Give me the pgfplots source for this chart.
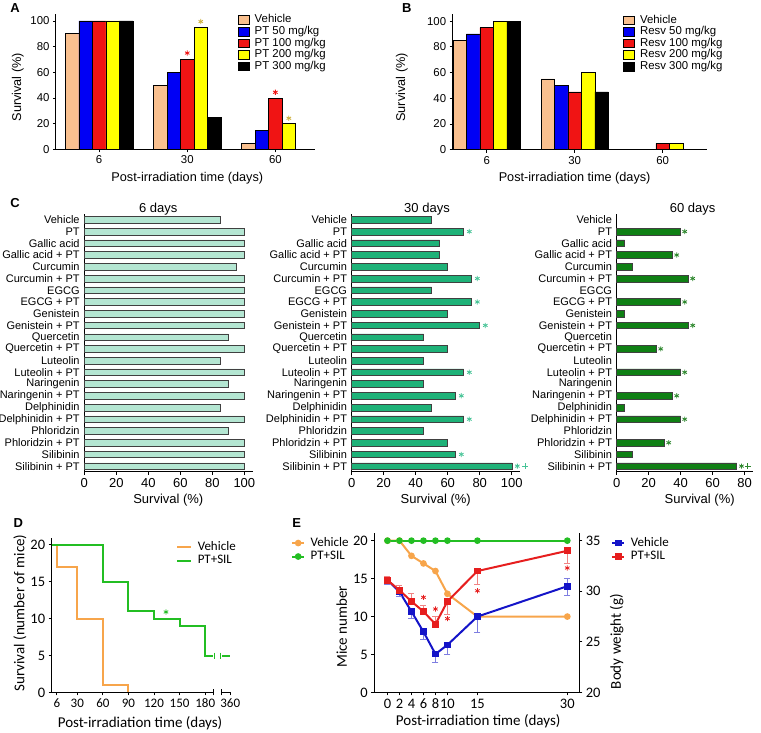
\documentclass[border=0pt]{standalone}
\usepackage{fontspec}
\setmainfont{Liberation Sans}
\newfontfamily\calfont{Carlito}
\usepackage{pgfplots}
\pgfplotsset{compat=1.18}
\usetikzlibrary{plotmarks}

\definecolor{peach}{RGB}{249,192,143}
\definecolor{pblue}{RGB}{0,0,245}
\definecolor{pred}{RGB}{240,20,20}
\definecolor{pyel}{RGB}{255,255,0}
\definecolor{stargold}{RGB}{205,175,60}
\definecolor{mint}{RGB}{180,230,210}
\definecolor{midgreen}{RGB}{30,178,120}
\definecolor{darkgreen}{RGB}{15,128,20}
\definecolor{tealstar}{RGB}{70,195,150}
\definecolor{dkstar}{RGB}{45,135,45}
\definecolor{dorange}{RGB}{247,165,75}
\definecolor{dgreen}{RGB}{35,190,35}
\definecolor{eblue}{RGB}{20,20,200}
\definecolor{ered}{RGB}{230,30,30}

\pgfplotsset{
  base/.style={
    scale only axis, anchor=south west, clip=false,
    axis x line*=bottom, axis y line*=left,
    axis line style={line width=1pt},
    tick style={black, line width=0.8pt},
    tick align=outside, major tick length=3pt,
    /pgf/number format/assume math mode=true,
  },
  pat/.style={fill=#1, draw=black, line width=0.6pt,
    legend image code/.code={\draw[##1] (0pt,-4.3pt) rectangle (10.7pt,4.3pt);}},
  star/.style={only marks, mark=asterisk, mark size=2.6pt, line width=0.8pt, color=#1, forget plot},
  ableg/.style={legend cell align=left,
    legend style={draw=none, fill=none, anchor=north west, at={#1},
      font=\fontsize{11.4}{12}\selectfont, row sep=0pt,
      nodes={inner sep=0.5pt, text height=8.2pt, text depth=2.4pt},
      /tikz/every odd column/.append style={column sep=5pt}}},
  abax/.style={base,
    ticklabel style={font=\fontsize{11.4}{12}\selectfont},
    label style={font=\fontsize{12.7}{14}\selectfont},
    xtick={0,1,2}, xticklabels={6,30,60}, ytick={0,20,...,100},
    ymin=0, ymax=105.4, height=135.5pt,
    xlabel={Post-irradiation time (days)}, ylabel={Survival (\%)}},
  cax/.style={base, height=258pt, xmin=0, ymin=-0.5, ymax=21.5,
    ytick={0,...,21}, ytick style={draw=none},
    yticklabels={Silibinin + PT, Silibinin, Phloridzin + PT, Phloridzin,
      Delphinidin + PT, Delphinidin, Naringenin + PT, Naringenin,
      Luteolin + PT, Luteolin, Quercetin + PT, Quercetin,
      Genistein + PT, Genistein, EGCG + PT, EGCG,
      Curcumin + PT, Curcumin, Gallic acid + PT, Gallic acid, PT, Vehicle},
    yticklabel style={font=\fontsize{11}{11}\selectfont, inner sep=1.5pt},
    xticklabel style={font=\fontsize{13}{13}\selectfont},
    label style={font=\fontsize{13}{14}\selectfont},
    xlabel={Survival (\%)}},
  cbar/.style={xbar, bar width=0.57, fill=#1, draw=black!75, line width=0.5pt},
  deax/.style={base,
    ticklabel style={font=\calfont\fontsize{14.5}{15}\selectfont},
    label style={font=\calfont\fontsize{15}{16}\selectfont}},
  deleg/.style={legend cell align=left,
    legend style={draw=none, fill=none, anchor=north west, at={#1},
      font=\calfont\fontsize{13}{14}\selectfont, row sep=0pt,
      nodes={inner sep=0.5pt, text height=9.5pt, text depth=3pt},
      /tikz/every odd column/.append style={column sep=5pt}}},
}

\begin{document}
\begin{tikzpicture}[x=1pt,y=1pt]
\path[use as bounding box] (0pt,0pt) rectangle (761pt,733pt);

\begin{scope}[font=\bfseries\fontsize{13}{13}\selectfont]
\node at (15pt,725pt) {A};
\node at (406.7pt,725pt) {B};
\node at (15pt,529.7pt) {C};
\node at (18.3pt,209.7pt) {D};
\node at (296.7pt,209.7pt) {E};
\end{scope}
\begin{scope}[font=\fontsize{13}{13}\selectfont]
\node at (158.3pt,524pt) {6 days};
\node at (427pt,524pt) {30 days};
\node at (692.7pt,524pt) {60 days};
\end{scope}

% ---------- A
\begin{axis}[abax, at={(56pt,583.5pt)}, width=259pt, xmin=-0.49, xmax=2.45,
  xlabel style={at={(axis description cs:0.507,-0.2125)}, anchor=center},
  ylabel style={at={(axis description cs:-0.147,0.46)}, anchor=center},
  ableg={(0.69,1.015)}]
\addplot[ybar, bar width=0.153, bar shift=-0.306, pat=peach] coordinates {(0,90)(1,50)(2,5)};
\addlegendentry{Vehicle}
\addplot[ybar, bar width=0.153, bar shift=-0.153, pat=pblue] coordinates {(0,100)(1,60)(2,15)};
\addlegendentry{PT 50 mg/kg}
\addplot[ybar, bar width=0.153, bar shift=0, pat=pred] coordinates {(0,100)(1,70)(2,40)};
\addlegendentry{PT 100 mg/kg}
\addplot[ybar, bar width=0.153, bar shift=0.153, pat=pyel] coordinates {(0,100)(1,95)(2,20)};
\addlegendentry{PT 200 mg/kg}
\addplot[ybar, bar width=0.153, bar shift=0.306, pat=black] coordinates {(0,100)(1,25)};
\addlegendentry{PT 300 mg/kg}
\addplot[star=pred] coordinates {(1,75)(2,44.5)};
\addplot[star=stargold] coordinates {(1.153,99.5)(2.153,24.3)};
\end{axis}

% ---------- B
\begin{axis}[abax, at={(452.7pt,583.3pt)}, width=254pt, xmin=-0.386, xmax=2.5,
  xlabel style={at={(axis description cs:0.48,-0.212)}, anchor=center},
  ylabel style={at={(axis description cs:-0.2,0.46)}, anchor=center},
  ableg={(0.659,1.015)}]
\addplot[ybar, bar width=0.153, bar shift=-0.306, pat=peach] coordinates {(0,85)(1,55)};
\addlegendentry{Vehicle}
\addplot[ybar, bar width=0.153, bar shift=-0.153, pat=pblue] coordinates {(0,90)(1,50)};
\addlegendentry{Resv 50 mg/kg}
\addplot[ybar, bar width=0.153, bar shift=0, pat=pred] coordinates {(0,95)(1,45)(2,5)};
\addlegendentry{Resv 100 mg/kg}
\addplot[ybar, bar width=0.153, bar shift=0.153, pat=pyel] coordinates {(0,100)(1,60)(2,5)};
\addlegendentry{Resv 200 mg/kg}
\addplot[ybar, bar width=0.153, bar shift=0.306, pat=black] coordinates {(0,100)(1,45)};
\addlegendentry{Resv 300 mg/kg}
\end{axis}

% ---------- C, 6 days
\begin{axis}[cax, at={(84.3pt,261pt)}, width=168.7pt, xmax=105.4, xtick={0,20,...,100},
  xlabel style={at={(axis description cs:0.498,-0.111)}, anchor=center}]
\addplot[cbar=mint] coordinates {(85,21)(100,20)(100,19)(100,18)(95,17)(100,16)(100,15)(100,14)
  (100,13)(100,12)(90,11)(100,10)(85,9)(100,8)(90,7)(100,6)(85,5)(100,4)(90,3)(100,2)(100,1)(100,0)};
\end{axis}

% ---------- C, 30 days
\begin{axis}[cax, at={(351.7pt,261pt)}, width=168.7pt, xmax=105.4, xtick={0,20,...,100},
  xlabel style={at={(axis description cs:0.498,-0.111)}, anchor=center}]
\addplot[cbar=midgreen] coordinates {(50,21)(70,20)(55,19)(55,18)(60,17)(75,16)(50,15)(75,14)
  (60,13)(80,12)(45,11)(60,10)(45,9)(70,8)(45,7)(65,6)(50,5)(70,4)(45,3)(60,2)(65,1)(100,0)};
\addplot[star=tealstar] coordinates {(73.5,20)(78.5,16)(78.5,14)(83.5,12)(73.5,8)(68.5,6)(73.5,4)(68.5,1)(103.5,0)};
\addplot[only marks, mark=+, mark size=2.8pt, line width=0.8pt, tealstar, forget plot] coordinates {(108.3,0)};
\end{axis}

% ---------- C, 60 days
\begin{axis}[cax, at={(616.7pt,261pt)}, width=136pt, xmax=85, xtick={0,20,...,80},
  xlabel style={at={(axis description cs:0.61,-0.111)}, anchor=center}]
\addplot[cbar=darkgreen] coordinates {(40,20)(5,19)(35,18)(10,17)(45,16)(40,14)(5,13)(45,12)
  (25,10)(40,8)(35,6)(5,5)(40,4)(30,2)(10,1)(75,0)};
\addplot[star=dkstar] coordinates {(42.5,20)(37.5,18)(47.5,16)(42.5,14)(47.5,12)(27.5,10)(42.5,8)(37.5,6)(42.5,4)(32.5,2)(78,0)};
\addplot[only marks, mark=+, mark size=2.8pt, line width=0.8pt, dkstar, forget plot] coordinates {(82,0)};
\end{axis}

% ---------- D
\begin{axis}[deax, at={(51.7pt,40.5pt)}, width=178.5pt, height=154.4pt,
  xmin=0, xmax=209.3, ymin=0, ymax=20.9,
  xtick={6,30,60,90,120,150,180,209.3}, xticklabels={6,30,60,90,120,150,180,360},
  xticklabel style={font=\calfont\fontsize{13}{13}\selectfont},
  ytick={0,5,...,20},
  x axis line style={draw=none},
  xlabel={Post-irradiation time (days)}, ylabel={Survival (number of mice)},
  xlabel style={at={(axis description cs:0.495,-0.2)}, anchor=center},
  ylabel style={at={(axis description cs:-0.178,0.515)}, anchor=center},
  deleg={(0.68,1.0)},
  legend image code/.code={\draw[#1] (0pt,0pt) -- (14pt,0pt);}]
\addplot[const plot, dorange, line width=2pt] coordinates {(0,20)(6,17)(30,10)(60,1)(90,0)};
\addlegendentry{Vehicle}
\addplot[const plot, dgreen, line width=2pt] coordinates {(0,20)(60,15)(90,11)(120,10)(150,9)(180,5)(189.7,5)};
\addlegendentry{PT+SIL}
\addplot[dgreen, line width=2pt, forget plot] coordinates {(199.5,5)(209.3,5)};
\addplot[dgreen, only marks, mark=|, mark size=3pt, line width=1pt, forget plot] coordinates {(190.5,5)(198.5,5)};
\addplot[star=dgreen] coordinates {(134,10.9)};
\draw[line width=1pt] (axis cs:0,0) -- (axis cs:189.7,0);
\draw[line width=1pt] (axis cs:199.5,0) -- (axis cs:209.3,0);
\draw[line width=0.8pt] (axis cs:189.7,0) ++(0,-3pt) -- ++(0,6pt);
\draw[line width=0.8pt] (axis cs:199.5,0) ++(0,-3pt) -- ++(0,6pt);
\end{axis}

% ---------- E, mice number
\begin{axis}[deax, at={(374.3pt,40.5pt)}, width=205pt, height=159.2pt,
  xmin=-2.2, xmax=32, ymin=0, ymax=20.97,
  xtick={0,2,4,6,8,10,15,30}, ytick={0,5,...,20},
  xlabel={Post-irradiation time (days)}, ylabel={Mice number},
  xlabel style={at={(axis description cs:0.507,-0.183)}, anchor=center},
  ylabel style={at={(axis description cs:-0.159,0.413)}, anchor=center},
  deleg={(-0.421,0.995)},
  legend image code/.code={\draw[#1, mark repeat=2, mark phase=2] plot coordinates {(0pt,0pt) (6pt,0pt) (12pt,0pt)};}]
\addplot[dorange, line width=2pt, mark=*, mark size=2.3pt] coordinates {(0,20)(2,20)(4,18)(6,17)(8,16)(10,13)(15,10)(30,10)};
\addlegendentry{Vehicle}
\addplot[dgreen, line width=2pt, mark=*, mark size=2.3pt] coordinates {(0,20)(2,20)(4,20)(6,20)(8,20)(10,20)(15,20)(30,20)};
\addlegendentry{PT+SIL}
\end{axis}

% ---------- E, body weight
\begin{axis}[deax, at={(374.3pt,40.5pt)}, width=205pt, height=159.2pt,
  axis x line=none, axis y line*=right,
  xmin=-2.2, xmax=32, ymin=20, ymax=35.73, ytick={20,25,30,35},
  ylabel={Body weight (g)},
  ylabel style={at={(axis description cs:1.182,0.32)}, anchor=center},
  deleg={(1.141,0.995)},
  legend image code/.code={\draw[#1, mark repeat=2, mark phase=2] plot coordinates {(0pt,0pt) (6pt,0pt) (12pt,0pt)};}]
\addplot[eblue, line width=2pt, mark=square*, mark size=2.4pt,
  error bars/.cd, y dir=both, y explicit,
  error bar style={line width=0.7pt, color=eblue!55}, error mark options={rotate=90, mark size=3pt, line width=0.7pt, color=eblue!55}]
  table[x=x, y=y, y error plus=ep, y error minus=em, row sep=\\] {
  x y ep em \\
  0 31.1 0 0.4 \\
  2 29.95 0 0.45 \\
  4 28.0 0 0.7 \\
  6 26.0 0 0.75 \\
  8 23.8 0 0.85 \\
  10 24.7 0 0.9 \\
  15 27.5 0 1.6 \\
  30 30.5 0.8 0.9 \\
  };
\addlegendentry{Vehicle}
\addplot[ered, line width=2pt, mark=square*, mark size=2.4pt,
  error bars/.cd, y dir=both, y explicit,
  error bar style={line width=0.7pt, color=ered!55}, error mark options={rotate=90, mark size=3pt, line width=0.7pt, color=ered!55}]
  table[x=x, y=y, y error plus=ep, y error minus=em, row sep=\\] {
  x y ep em \\
  0 31.1 0.4 0 \\
  2 30.1 0.5 0 \\
  4 29.0 0.8 0 \\
  6 28.0 0.6 0 \\
  8 26.75 0.8 0 \\
  10 29.0 0 1.3 \\
  15 32.0 0 1.35 \\
  30 34.0 0 1.2 \\
  };
\addlegendentry{PT+SIL}
\addplot[star=ered] coordinates {(6,29.4)(8,28.25)(10,27.3)(15,30.05)(30,32.3)};
\end{axis}
\end{tikzpicture}
\end{document}
